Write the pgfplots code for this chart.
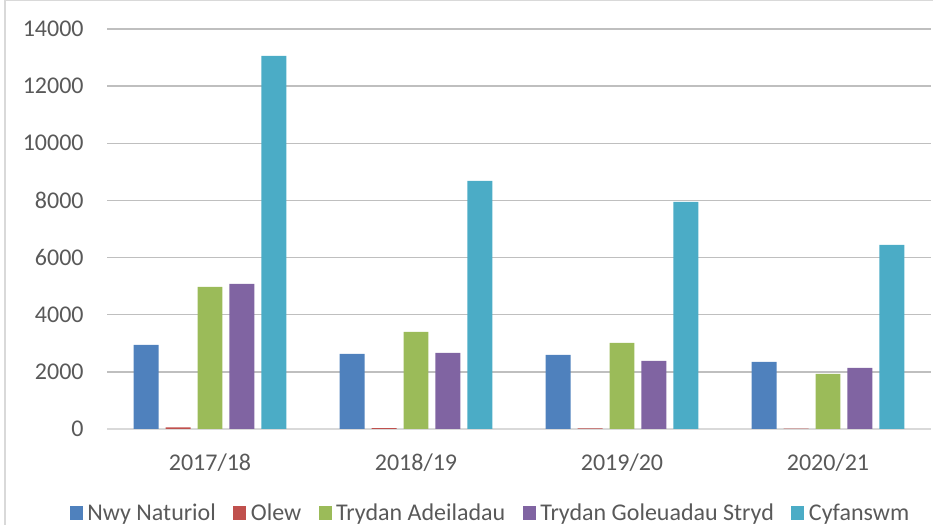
\documentclass[border=0pt]{standalone}
\usepackage{pgfplots}
\pgfplotsset{compat=1.18}
\usepackage{fontspec}
\setmainfont{Carlito}
\definecolor{cBlue}{RGB}{79,129,189}
\definecolor{cRed}{RGB}{192,80,77}
\definecolor{cGreen}{RGB}{155,187,89}
\definecolor{cPurple}{RGB}{128,100,162}
\definecolor{cCyan}{RGB}{75,172,198}
\definecolor{txt}{RGB}{89,89,89}
\definecolor{grid}{RGB}{217,217,217}
\begin{document}
\begin{tikzpicture}
\path[use as bounding box] (0pt,0pt) rectangle (699.75pt,393.75pt);
\draw[grid, line width=1.2pt] (3.75pt,0pt) -- (3.75pt,393.4pt) -- (699.75pt,393.4pt);
\begin{axis}[
  at={(80.25pt,72pt)}, anchor=south west,
  scale only axis, width=618pt, height=300pt,
  xmin=-0.5, xmax=3.5, ymin=0, ymax=14000,
  ytick={0,2000,...,14000},
  xtick={0,1,2,3},
  xticklabels={2017/18,2018/19,2019/20,2020/21},
  axis line style={draw=none},
  axis x line*=bottom,
  x axis line style={draw=grid, line width=1pt},
  xtick style={draw=none}, ytick style={draw=none},
  major tick length=0pt,
  xmajorgrids=false, ymajorgrids, grid style={grid, line width=1pt},
  tick label style={font=\fontsize{18}{20}\selectfont, text=txt},
  /pgf/number format/assume math mode=true,
  scaled y ticks=false,
  yticklabel style={/pgf/number format/1000 sep={}, xshift=-14pt},
  xticklabel style={yshift=-15pt},
  ybar, bar width=0.121,
  legend columns=5,
  legend style={at={(0.465,-0.21)}, anchor=center, draw=none, fill=none,
    font=\fontsize{18}{20}\selectfont, text=txt,
    nodes={inner sep=1pt},
    /tikz/every odd column/.append style={column sep=2.5pt},
    /tikz/every even column/.append style={column sep=12pt}},
  legend image code/.code={\fill[#1] (0pt,-4.9pt) rectangle (9.75pt,4.9pt);},
  clip=false,
]
\addplot[fill=cBlue, draw=none, bar shift=-0.31] coordinates {(0,2940) (1,2625) (2,2590) (3,2345)};
\addplot[fill=cRed, draw=none, bar shift=-0.155] coordinates {(0,60) (1,30) (2,25) (3,15)};
\addplot[fill=cGreen, draw=none, bar shift=0] coordinates {(0,4970) (1,3395) (2,3010) (3,1925)};
\addplot[fill=cPurple, draw=none, bar shift=0.155] coordinates {(0,5075) (1,2660) (2,2380) (3,2135)};
\addplot[fill=cCyan, draw=none, bar shift=0.31] coordinates {(0,13055) (1,8680) (2,7945) (3,6440)};
\legend{Nwy Naturiol, Olew, Trydan Adeiladau, Trydan Goleuadau Stryd, Cyfanswm}
\end{axis}
\end{tikzpicture}
\end{document}
